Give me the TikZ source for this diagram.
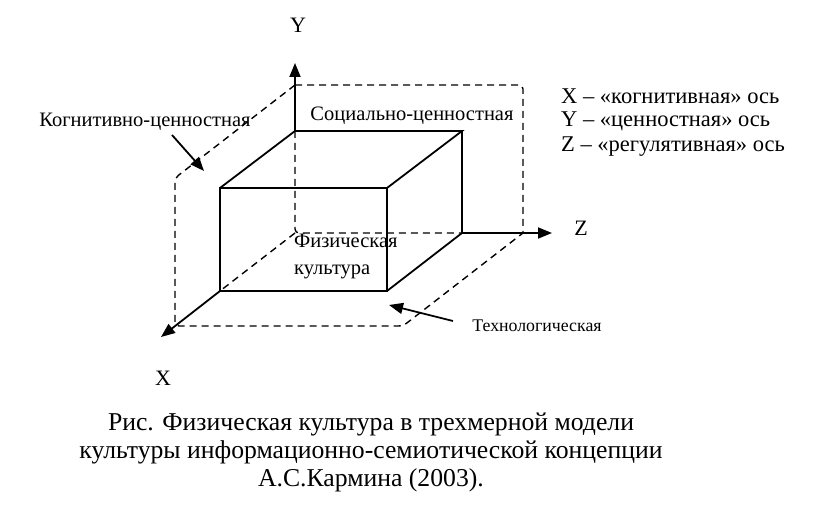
\documentclass[tikz,border=0pt]{standalone}
\usepackage{fontspec}
\setmainfont{Liberation Serif}
\usetikzlibrary{arrows.meta}
\begin{document}
\begin{tikzpicture}[x=1pt,y=-1pt,
  solidline/.style={line width=1.8pt},
  dashline/.style={line width=1.4pt, dash pattern=on 7pt off 5pt, rounded corners=4pt},
  axisarrow/.style={solidline, -{Triangle[length=14pt,width=11pt]}},
  labelarrow/.style={line width=1.8pt, -{Triangle[length=14pt,width=11pt]}},
  axlbl/.style={font=\fontsize{22}{24}\selectfont, inner sep=0pt},
  lbl/.style={font=\fontsize{20.5}{24}\selectfont, inner sep=0pt},
  leglbl/.style={font=\fontsize{22.5}{26}\selectfont, inner sep=0pt, anchor=west},
  smalllbl/.style={font=\fontsize{17.8}{20}\selectfont, inner sep=0pt}]
\useasboundingbox (0,0) rectangle (818,518);
% geometry
\coordinate (O) at (295,233);
\coordinate (BTL) at (295,131);
\coordinate (BTR) at (462,131);
\coordinate (BBR) at (462,233);
\coordinate (FTL) at (220,188);
\coordinate (FTR) at (387,188);
\coordinate (FBL) at (220,291);
\coordinate (FBR) at (387,291);
\coordinate (Ytip) at (295,63);
\coordinate (Ztip) at (552,233);
\coordinate (Xtip) at (161,337);
\coordinate (YZtl) at (295,85);
\coordinate (YZtr) at (523,85);
\coordinate (YZbr) at (523,233);
\coordinate (XYt) at (175,178);
\coordinate (XZl) at (175,326);
\coordinate (XZr) at (403,326);
% dashed planes
\draw[dashline] (YZtl) -- (YZtr) -- (YZbr);
\draw[dashline] (YZtl) -- (XYt) -- (XZl) -- (XZr) -- (YZbr);
% hidden edges
\draw[dashline] (BTL) -- (O) -- (BBR);
\draw[dashline] (O) -- (FBL);
% box
\draw[solidline, line join=miter] (FTL) rectangle (FBR);
\draw[solidline] (FTL) -- (BTL) -- (BTR) -- (FTR);
\draw[solidline] (BTR) -- (BBR) -- (FBR);
% axes
\draw[axisarrow] (BTL) -- (Ytip);
\draw[axisarrow] (BBR) -- (Ztip);
\draw[axisarrow] (FBL) -- (Xtip);
% axis labels
\node[axlbl] (ylab) at (298,25) {Y};
\node[axlbl] (zlab) at (581,228) {Z};
\node[axlbl] (xlab) at (163,378) {X};
% plane labels
\node[lbl] (soc) at (412,116) {Социально-ценностная};
\node[lbl] (cog) at (145,122) {Когнитивно-ценностная};
\node[smalllbl] (tech) at (537,326) {Технологическая};
\node[lbl, align=left, anchor=west, font=\fontsize{20.5}{27}\selectfont] (phys) at (294,257) {Физическая\\культура};
% label arrows
\coordinate (cogA) at (172,135);
\coordinate (cogB) at (204,171);
\draw[labelarrow] (cogA) -- (cogB);
\coordinate (techA) at (453,321);
\coordinate (techB) at (389,305);
\draw[labelarrow] (techA) -- (techB);
% legend
\node[leglbl] (lx) at (561,96) {X – «когнитивная» ось};
\node[leglbl] (ly) at (561,121) {Y – «ценностная» ось};
\node[leglbl] (lz) at (561,147) {Z – «регулятивная» ось};
% caption
\node[align=center, inner sep=0pt, font=\fontsize{25.7}{28}\selectfont] (cap) at (371,452)
  {Рис. Физическая культура в трехмерной модели\\культуры информационно-семиотической концепции\\А.С.Кармина (2003).};
\end{tikzpicture}
\end{document}
